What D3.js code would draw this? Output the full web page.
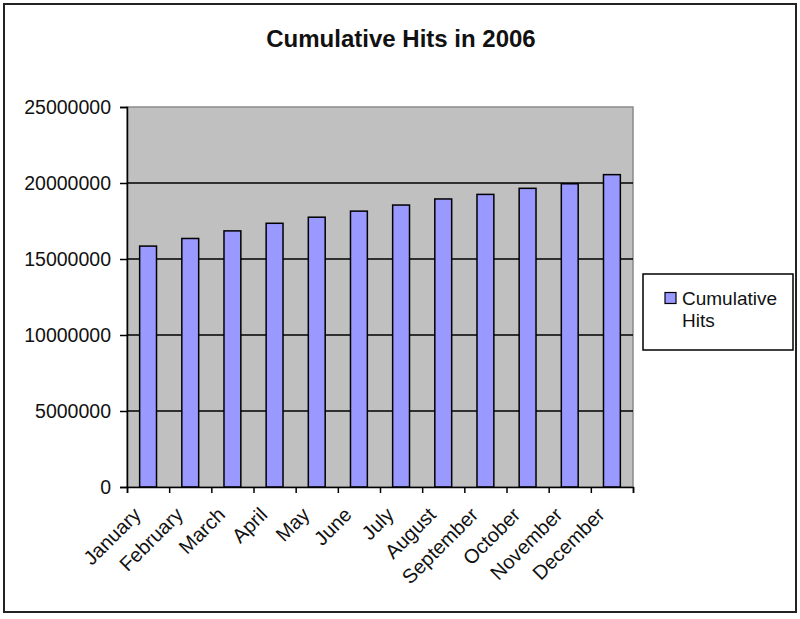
<!DOCTYPE html>
<html><head><meta charset="utf-8">
<script src="https://cdn.jsdelivr.net/npm/d3@7"></script>
<style>body{margin:0;background:#fff;} svg{display:block;} text{font-family:"Liberation Sans",Arial,sans-serif;}</style>
</head><body>
<svg id="c" width="800" height="619"></svg>
<script>
const categories = ["January","February","March","April","May","June","July","August","September","October","November","December"];
const hits = [15850000,16350000,16850000,17350000,17750000,18150000,18550000,18950000,19250000,19650000,19950000,20550000];
const yTicks = [0,5000000,10000000,15000000,20000000,25000000];
const seriesName = ["Cumulative","Hits"];
const titleText = "Cumulative Hits in 2006";

const svg = d3.select("#c");
const L = 127, R = 633, T = 107, B = 487;

svg.append("rect").attr("x",4).attr("y",4).attr("width",792).attr("height",608)
  .attr("fill","#fff").attr("stroke","#222").attr("stroke-width",2);

svg.append("text").attr("x",401).attr("y",47).attr("text-anchor","middle")
  .attr("font-size",24).attr("font-weight","bold").attr("fill","#111").text(titleText);

const y = d3.scaleLinear().domain([0,25000000]).range([B,T]);
const x = d3.scaleBand().domain(categories).range([L,R]).paddingInner(0.6).paddingOuter(0.3);
const xb = d3.scaleLinear().domain([0,categories.length]).range([L,R]);

// plot area
svg.append("rect").attr("x",L).attr("y",T).attr("width",R-L).attr("height",B-T)
  .attr("fill","#c0c0c0").attr("stroke","#8a8a8a").attr("stroke-width",1.5);

// gridlines
svg.append("g").selectAll("line").data(yTicks.filter(d=>d>0 && d<25000000)).join("line")
  .attr("x1",L).attr("x2",R).attr("y1",d=>y(d)).attr("y2",d=>y(d))
  .attr("stroke","#000").attr("stroke-width",1.5);

// bars
svg.append("g").selectAll("rect").data(hits).join("rect")
  .attr("x",(d,i)=>x(categories[i])).attr("width",x.bandwidth())
  .attr("y",d=>y(d)).attr("height",d=>B-y(d))
  .attr("fill","#9999ff").attr("stroke","#000").attr("stroke-width",1.5);

// y axis
const ya = svg.append("g").attr("transform",`translate(${L},0)`)
  .call(d3.axisLeft(y).tickValues(yTicks).tickSize(7).tickPadding(9).tickFormat(d3.format("d")));
ya.select(".domain").attr("stroke","#000").attr("stroke-width",1.5);
ya.selectAll(".tick line").attr("stroke","#000").attr("stroke-width",1.5);
ya.selectAll("text").attr("font-size",19.5).attr("fill","#111").attr("font-family","Liberation Sans, Arial, sans-serif");

// x axis (boundary ticks)
const xa = svg.append("g").attr("transform",`translate(0,${B})`)
  .call(d3.axisBottom(xb).tickValues(d3.range(categories.length+1)).tickSize(6).tickFormat(""));
xa.select(".domain").attr("stroke","#000").attr("stroke-width",1.5);
xa.selectAll(".tick line").attr("stroke","#000").attr("stroke-width",1.5);

// x labels
const xl = svg.append("g").attr("transform",`translate(0,${B})`)
  .call(d3.axisBottom(x).tickSize(0).tickPadding(0));
xl.select(".domain").remove();
xl.selectAll("text").attr("font-size",20).attr("fill","#111")
  .attr("font-family","Liberation Sans, Arial, sans-serif")
  .attr("text-anchor","end").attr("dy",0)
  .attr("transform","translate(-6,29) rotate(-45)");

// legend
const lg = svg.append("g");
lg.append("rect").attr("x",643).attr("y",274).attr("width",150).attr("height",76)
  .attr("fill","#fff").attr("stroke","#000").attr("stroke-width",1.5);
lg.append("rect").attr("x",665).attr("y",292.5).attr("width",11).attr("height",11)
  .attr("fill","#9999ff").attr("stroke","#000").attr("stroke-width",1.2);
lg.selectAll("text.l").data(seriesName).join("text").attr("class","l")
  .attr("x",682).attr("y",(d,i)=>305+i*22).attr("font-size",19).attr("fill","#111").text(d=>d);
</script>
</body></html>
